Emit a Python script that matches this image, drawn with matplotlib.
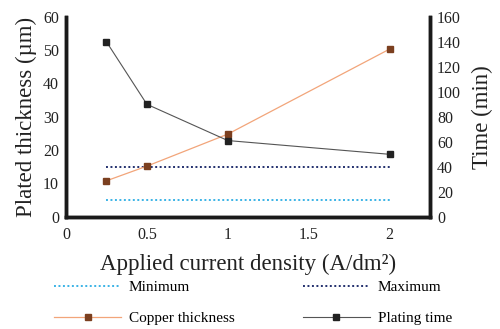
import matplotlib
matplotlib.use("Agg")
import matplotlib.pyplot as plt

plt.rcParams['font.family'] = ['Liberation Serif', 'DejaVu Serif']

# data
current = [0.25, 0.5, 1, 2]
copper_thickness = [10.8, 15.2, 24.8, 50.3]
plating_time = [140, 90, 61, 50]
minimum = [5, 5, 5, 5]
maximum = [15, 15, 15, 15]

fig = plt.figure(figsize=(5, 3.29), dpi=100)
ax = fig.add_axes([0.132, 0.341, 0.728, 0.608])
ax2 = ax.twinx()

l_min, = ax.plot(current, minimum, color="#3bb3e6", ls=(0, (1, 1.3)), lw=1.4, label="Minimum")
l_max, = ax.plot(current, maximum, color="#23306e", ls=(0, (1, 1.3)), lw=1.4, label="Maximum")
l_cu, = ax.plot(current, copper_thickness, color="#f2a57a", lw=0.9, marker="s", ms=5,
                mfc="#7b3f1f", mec="#7b3f1f", label="Copper thickness")
l_pt, = ax2.plot(current, plating_time, color="#555555", lw=0.8, marker="s", ms=5,
                 mfc="#222222", mec="#222222", label="Plating time")

ax.set_xlim(0, 2.25)
ax.set_ylim(0, 60)
ax2.set_ylim(0, 160)
ax.set_xticks([0, 0.5, 1, 1.5, 2])
ax.set_xticklabels(["0", "0.5", "1", "1.5", "2"])
ax.set_yticks(range(0, 61, 10))
ax2.set_yticks(range(0, 161, 20))

for a in (ax, ax2):
    a.tick_params(length=0, labelsize=11.5, colors="#222222", pad=5)
    a.spines["top"].set_visible(False)
    for s in ("left", "right", "bottom"):
        a.spines[s].set_linewidth(2.5)
        a.spines[s].set_color("#1a1a1a")
ax.tick_params(axis="x", pad=7)

ax.set_ylabel("Plated thickness (\u00b5m)", fontsize=16.5, color="#222222", labelpad=4)
ax2.set_ylabel("Time (min)", fontsize=16.5, color="#222222", labelpad=8)
ax.set_xlabel("Applied current density (A/dm\u00b2)", fontsize=16.5, color="#222222", labelpad=8)

fig.legend([l_min, l_cu, l_max, l_pt],
           ["Minimum", "Copper thickness", "Maximum", "Plating time"],
           ncol=2, loc="lower center", bbox_to_anchor=(0.506, -0.03), frameon=False,
           fontsize=11, handlelength=4.4, columnspacing=4.45, labelspacing=1.15, handletextpad=0.5)

fig.savefig("out.png", dpi=100)
